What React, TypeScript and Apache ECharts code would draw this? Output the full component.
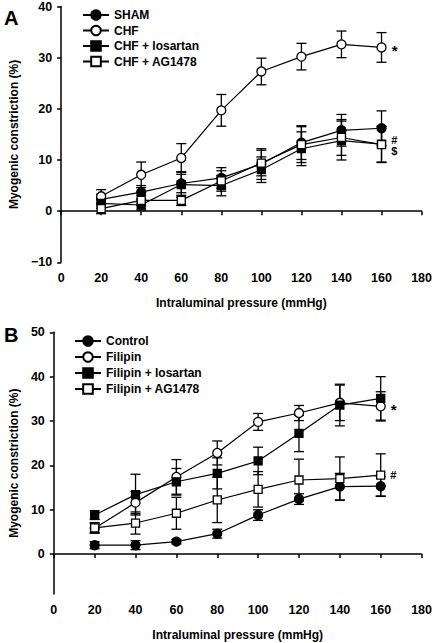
import React, { useEffect, useRef } from "react";
import * as echarts from "echarts";

const pressures = [20, 40, 60, 80, 100, 120, 140, 160];
const xTicks = [0, 20, 40, 60, 80, 100, 120, 140, 160, 180];

// Panel A
const namesA = ["SHAM", "CHF", "CHF + losartan", "CHF + AG1478"];
const shamA = [2.3, 3.7, 5.4, 6.5, 9.2, 13.4, 15.8, 16.2];
const shamErrA = [1.0, 1.3, 1.8, 2.0, 3.0, 3.3, 3.1, 3.4];
const chfA = [2.9, 7.1, 10.4, 19.7, 27.3, 30.2, 32.6, 32.0];
const chfErrA = [1.3, 2.5, 2.8, 3.1, 2.6, 2.6, 2.6, 2.9];
const losA = [1.5, 1.2, 5.2, 5.0, 8.1, 12.2, 13.8, 13.1];
const losErrA = [1.0, 1.0, 2.5, 2.0, 2.5, 3.3, 3.8, 3.5];
const agA = [0.5, 2.1, 2.1, 5.9, 9.4, 13.0, 14.4, 13.0];
const agErrA = [1.0, 1.0, 1.0, 2.0, 2.5, 3.5, 3.5, 3.5];
const marksA = ["", "*", "$", "#"];

// Panel B
const namesB = ["Control", "Filipin", "Filipin + losartan", "Filipin + AG1478"];
const ctrlB = [2.0, 2.0, 2.8, 4.6, 8.8, 12.4, 15.2, 15.3];
const ctrlErrB = [0.8, 1.0, 0.5, 1.0, 1.2, 1.2, 3.0, 2.2];
const filB = [5.8, 11.6, 17.4, 22.8, 29.8, 31.8, 34.1, 33.3];
const filErrB = [1.0, 2.5, 3.9, 2.7, 1.9, 1.7, 4.0, 3.3];
const losB = [8.8, 13.4, 16.3, 18.2, 21.0, 27.2, 33.6, 35.1];
const losErrB = [1.0, 4.6, 3.0, 3.5, 3.1, 4.1, 4.7, 4.9];
const agB = [5.9, 7.0, 9.2, 12.2, 14.6, 16.7, 17.0, 17.8];
const agErrB = [1.2, 2.5, 3.6, 5.1, 4.0, 4.7, 4.9, 4.8];
const marksB = ["", "*", "", "#"];
const yTicksB = [0, 10, 20, 30, 40, 50];

const FONT = "Liberation Sans, Arial, Helvetica, sans-serif";
const symbols = [
  { symbol: "circle", fill: "#000", size: 9 },
  { symbol: "circle", fill: "#fff", size: 9 },
  { symbol: "rect", fill: "#000", size: 8 },
  { symbol: "rect", fill: "#fff", size: 8 },
];

function lineSeries(name: string, ys: number[], idx: number, axis: number, mark: string, markOffset: number[]) {
  const s = symbols[idx];
  return {
    type: "line",
    name,
    xAxisIndex: axis,
    yAxisIndex: axis,
    z: 4,
    symbol: s.symbol,
    symbolSize: s.size,
    showAllSymbol: true,
    lineStyle: { color: "#000", width: 1.2 },
    itemStyle: { color: s.fill, borderColor: "#000", borderWidth: 1.3 },
    emphasis: { disabled: true },
    data: ys.map((y, i) => {
      const item: any = { value: [pressures[i], y] };
      if (mark && i === ys.length - 1) {
        item.label = {
          show: true,
          formatter: mark,
          position: "right",
          distance: 5,
          offset: markOffset,
          color: "#000",
          fontFamily: FONT,
          fontWeight: "bold",
          fontSize: mark === "*" ? 15 : 11,
        };
      }
      return item;
    }),
  };
}

function errSeries(name: string, ys: number[], errs: number[], axis: number) {
  return {
    type: "custom",
    name: name + " err",
    xAxisIndex: axis,
    yAxisIndex: axis,
    z: 2,
    silent: true,
    renderItem: (params: any, api: any) => {
      const x = api.value(0);
      const lo = api.coord([x, api.value(1)]);
      const hi = api.coord([x, api.value(2)]);
      const w = 5;
      const style = { stroke: "#000", lineWidth: 1.3 };
      return {
        type: "group",
        children: [
          { type: "line", shape: { x1: lo[0], y1: lo[1], x2: hi[0], y2: hi[1] }, style },
          { type: "line", shape: { x1: lo[0] - w, y1: lo[1], x2: lo[0] + w, y2: lo[1] }, style },
          { type: "line", shape: { x1: hi[0] - w, y1: hi[1], x2: hi[0] + w, y2: hi[1] }, style },
        ],
      };
    },
    data: ys.map((y, i) => [pressures[i], y - errs[i], y + errs[i]]),
  };
}

const axisText = { color: "#000", fontFamily: FONT, fontWeight: "bold" as const, fontSize: 12.5 };
const axisLine = { show: true, lineStyle: { color: "#000", width: 1.5 } };
const axisTick = { show: true, inside: false, length: 4, lineStyle: { color: "#000", width: 1.5 } };
const minus = (v: number) => (v < 0 ? "\u2212" + Math.abs(v) : String(v));

export default function App() {
  const ref = useRef<HTMLDivElement>(null);
  useEffect(() => {
    document.body.style.margin = "0";
    const chart = echarts.init(ref.current!, null, { renderer: "svg" });
    const xAxisBase = (gridIndex: number) => ({
      type: "value",
      gridIndex,
      min: xTicks[0],
      max: xTicks[xTicks.length - 1],
      interval: 20,
      name: "Intraluminal pressure (mmHg)",
      nameLocation: "middle",
      nameGap: 35,
      nameTextStyle: { ...axisText, fontSize: 12 },
      axisLine,
      axisTick,
      axisLabel: { ...axisText, margin: 9 },
      splitLine: { show: false },
    });
    const legendBase = {
      orient: "vertical",
      itemWidth: 26,
      itemHeight: 12,
      itemGap: 3.5,
      itemTextGap: 7,
      textStyle: { ...axisText, fontSize: 12 },
      selectedMode: false,
    };
    const option: any = {
      animation: false,
      backgroundColor: "#fff",
      grid: [
        { left: 58, right: 11, top: 5.7, height: 256.6 },
        { left: 49, right: 11, top: 332.3, height: 261.7 },
      ],
      xAxis: [xAxisBase(0), xAxisBase(1)],
      yAxis: [
        {
          type: "value",
          gridIndex: 0,
          min: -10,
          max: 40,
          interval: 10,
          name: "Myogenic constriction (%)",
          nameLocation: "middle",
          nameGap: 37,
          nameTextStyle: { ...axisText, fontSize: 12 },
          axisLine,
          axisTick,
          axisLabel: { ...axisText, margin: 9, formatter: minus },
          splitLine: { show: false },
        },
        {
          type: "value",
          gridIndex: 1,
          min: -9,
          max: 50,
          name: "Myogenic constriction (%)",
          nameLocation: "middle",
          nameGap: 32,
          nameTextStyle: { ...axisText, fontSize: 12 },
          axisLine,
          axisTick: { ...axisTick, customValues: yTicksB },
          axisLabel: { ...axisText, margin: 9, customValues: yTicksB },
          splitLine: { show: false },
        },
      ],
      legend: [
        { ...legendBase, left: 77, top: 4, data: namesA },
        { ...legendBase, left: 69, top: 330, itemGap: 4, data: namesB },
      ],
      graphic: [
        { type: "text", left: 4, top: 8, style: { text: "A", fill: "#000", font: `bold 20px ${FONT}` } },
        { type: "text", left: 4, top: 325, style: { text: "B", fill: "#000", font: `bold 20px ${FONT}` } },
      ],
      series: [
        errSeries(namesA[0], shamA, shamErrA, 0),
        errSeries(namesA[1], chfA, chfErrA, 0),
        errSeries(namesA[2], losA, losErrA, 0),
        errSeries(namesA[3], agA, agErrA, 0),
        lineSeries(namesA[0], shamA, 0, 0, marksA[0], [0, 0]),
        lineSeries(namesA[1], chfA, 1, 0, marksA[1], [0, 3]),
        lineSeries(namesA[2], losA, 2, 0, marksA[2], [0, 7]),
        lineSeries(namesA[3], agA, 3, 0, marksA[3], [0, -5]),
        errSeries(namesB[0], ctrlB, ctrlErrB, 1),
        errSeries(namesB[1], filB, filErrB, 1),
        errSeries(namesB[2], losB, losErrB, 1),
        errSeries(namesB[3], agB, agErrB, 1),
        lineSeries(namesB[0], ctrlB, 0, 1, marksB[0], [0, 0]),
        lineSeries(namesB[1], filB, 1, 1, marksB[1], [0, 3]),
        lineSeries(namesB[2], losB, 2, 1, marksB[2], [0, 0]),
        lineSeries(namesB[3], agB, 3, 1, marksB[3], [0, 0]),
      ],
    };
    chart.setOption(option);
    return () => chart.dispose();
  }, []);
  return <div ref={ref} style={{ width: 435, height: 643 }} />;
}
